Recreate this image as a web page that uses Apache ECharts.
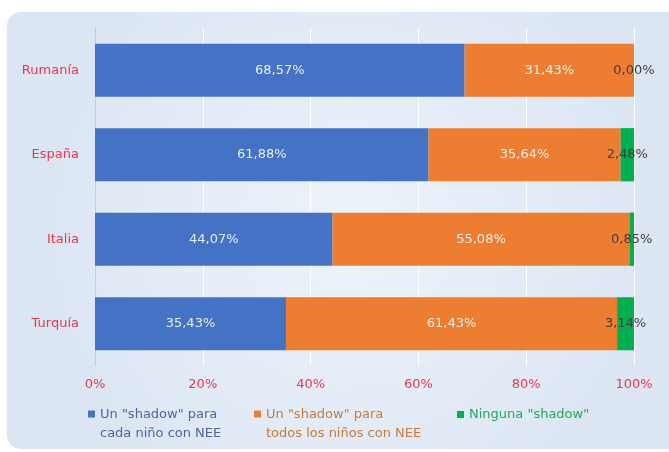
<!DOCTYPE html>
<html>
<head>
<meta charset="utf-8">
<script src="https://cdn.jsdelivr.net/npm/echarts@6/dist/echarts.min.js"></script>
<style>
  html, body { margin: 0; padding: 0; background: #fff; }
  #chart { width: 669px; height: 452px; }
</style>
</head>
<body>
<div id="chart"></div>
<script>
// datos
const countries = ["Rumanía", "España", "Italia", "Turquía"];
const cadaNino = [68.57, 61.88, 44.07, 35.43];
const todosNinos = [31.43, 35.64, 55.08, 61.43];
const ninguna = [0.0, 2.48, 0.85, 3.14];
const xTicks = [0, 20, 40, 60, 80, 100];

const names = [
  'Un "shadow" para\ncada niño con NEE',
  'Un "shadow" para\ntodos los niños con NEE',
  'Ninguna "shadow"'
];

const FONT = "DejaVu Sans";
const RED = "#e8384f";
// cuadrado alineado con la primera linea del texto (38 = dos lineas)
const ICON2 = "path://M0,0L0.01,0L0,0.01ZM0,5.5L7,5.5L7,12.5L0,12.5ZM0,38L0.01,38L0,37.99Z";

function fmt(p) {
  return p.value.toFixed(2).replace(".", ",") + "%";
}

function makeSeries(name, data, color, labelColor) {
  return {
    name: name,
    type: "bar",
    stack: "total",
    barWidth: "63%",
    data: data,
    itemStyle: { color: color },
    label: {
      show: true,
      position: "inside",
      formatter: fmt,
      color: labelColor,
      fontFamily: FONT,
      fontSize: 13
    },
    emphasis: { disabled: true }
  };
}

function makeLegend(name, color, left, twoLines) {
  return {
    data: [{ name: name, textStyle: { color: color } }],
    left: left,
    top: 405,
    padding: 0,
    icon: twoLines ? ICON2 : "rect",
    itemWidth: 7,
    itemHeight: twoLines ? 38 : 7,
    textStyle: { fontSize: 13, fontFamily: FONT, lineHeight: 19 }
  };
}

const chart = echarts.init(document.getElementById("chart"));
chart.setOption({
  animation: false,
  textStyle: { fontFamily: FONT },
  graphic: [{
    type: "rect",
    z: -10,
    silent: true,
    shape: { x: 7, y: 12, width: 680, height: 437, r: 14 },
    style: {
      fill: {
        type: "radial", x: 0.5, y: 0.5, r: 0.7,
        colorStops: [
          { offset: 0, color: "#eef3fa" },
          { offset: 1, color: "#dce6f3" }
        ]
      }
    }
  }],
  grid: { left: 95, top: 28, width: 539, height: 338 },
  legend: [
    makeLegend(names[0], "#4a67a3", 88, true),
    makeLegend(names[1], "#c77b3e", 254, true),
    makeLegend(names[2], "#22a85a", 457, false)
  ],
  xAxis: {
    type: "value",
    min: xTicks[0],
    max: xTicks[xTicks.length - 1],
    interval: 20,
    axisLine: { show: false },
    axisTick: { show: false },
    axisLabel: {
      formatter: "{value}%",
      color: RED,
      fontSize: 13,
      fontFamily: FONT,
      margin: 12
    },
    splitLine: { lineStyle: { color: "#ffffff", width: 1 } }
  },
  yAxis: {
    type: "category",
    inverse: true,
    data: countries,
    axisLine: { show: true, lineStyle: { color: "#c8cdd3" } },
    axisTick: { show: false },
    axisLabel: {
      color: RED,
      fontSize: 13,
      fontFamily: FONT,
      margin: 16
    }
  },
  series: [
    makeSeries(names[0], cadaNino, "#4472c4", "#e8edf5"),
    makeSeries(names[1], todosNinos, "#ed7d31", "#f2eee9"),
    makeSeries(names[2], ninguna, "#00b050", "#404040")
  ]
});
</script>
</body>
</html>
